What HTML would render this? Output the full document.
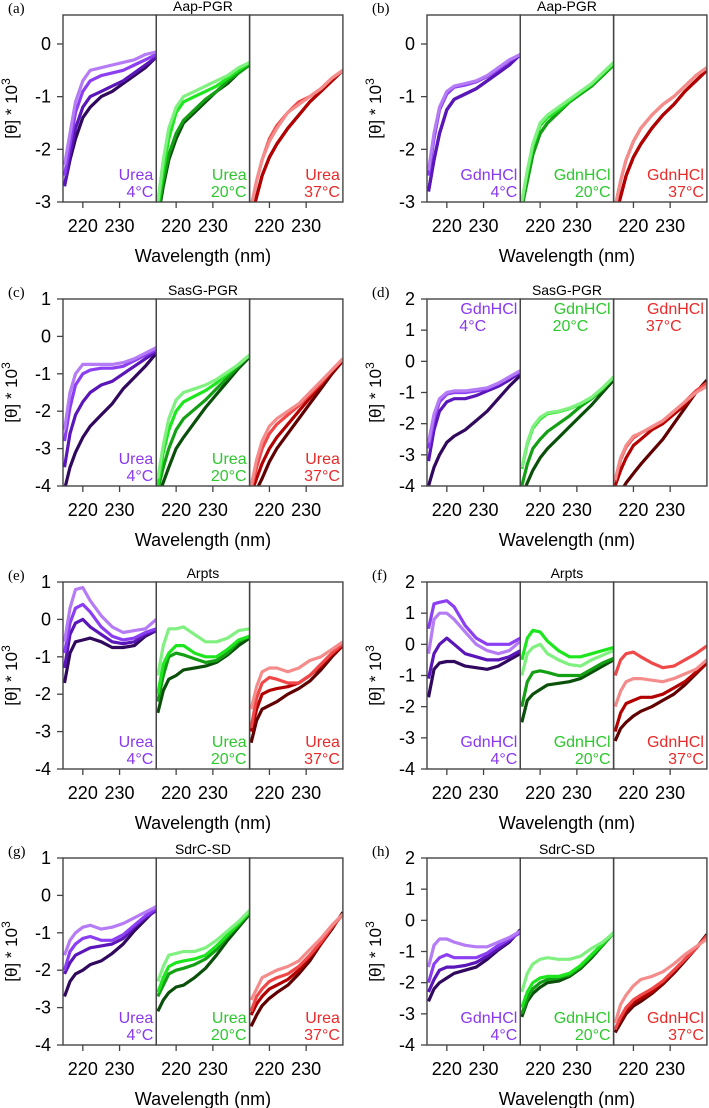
<!DOCTYPE html>
<html><head><meta charset="utf-8"><style>
html,body{margin:0;padding:0;background:#fff;}
svg{display:block;font-family:"Liberation Sans",sans-serif;}
</style></head><body>
<svg id="fig" width="709" height="1108" viewBox="0 0 709 1108" xmlns="http://www.w3.org/2000/svg"></svg>
<script>
// wavelengths (nm) shared by all curves
const wavelengths = [215,216.5,218,220,222,225,228,231,234,237,240];
const panelLetters = ["(a)","(b)","(c)","(d)","(e)","(f)","(g)","(h)"];
const panelTitles = ["Aap-PGR","Aap-PGR","SasG-PGR","SasG-PGR","Arpts","Arpts","SdrC-SD","SdrC-SD"];
const denaturants = ["Urea","GdnHCl","Urea","GdnHCl","Urea","GdnHCl","Urea","GdnHCl"];
const temps = ["4°C","20°C","37°C"];
const yMax = [0.55,0.55,1,2,1,2,1,2];
const yMin = [-3,-3,-4,-4,-4,-4,-4,-4];
const yTicksA = [0,-1,-2,-3];
const yTicks1 = [1,0,-1,-2,-3,-4];
const yTicks2 = [2,1,0,-1,-2,-3,-4];
const xTicks = [220,230];
// series values: panel -> temperature -> curves (light, bright, medium, dark)
const seriesA = [
 [[-2.3,-1.7,-1.1,-0.7,-0.5,-0.45,-0.4,-0.35,-0.3,-0.2,-0.15],[-2.5,-1.9,-1.3,-0.9,-0.7,-0.6,-0.55,-0.5,-0.4,-0.3,-0.2],[-2.7,-2.1,-1.6,-1.2,-1.0,-0.9,-0.8,-0.7,-0.55,-0.4,-0.25],[-2.7,-2.2,-1.8,-1.4,-1.2,-1.0,-0.9,-0.75,-0.6,-0.45,-0.25]],
 [[-3.0,-2.2,-1.6,-1.2,-1.0,-0.9,-0.8,-0.7,-0.6,-0.45,-0.35],[-3.1,-2.4,-1.8,-1.3,-1.1,-1.0,-0.9,-0.8,-0.65,-0.5,-0.35],[-3.2,-2.6,-2.1,-1.7,-1.45,-1.25,-1.05,-0.9,-0.7,-0.55,-0.4],[-3.3,-2.7,-2.2,-1.8,-1.5,-1.3,-1.1,-0.9,-0.75,-0.55,-0.4]],
 [[-3.1,-2.6,-2.2,-1.85,-1.6,-1.3,-1.15,-1.0,-0.85,-0.65,-0.5],[-3.1,-2.6,-2.2,-1.8,-1.55,-1.3,-1.1,-1.0,-0.85,-0.65,-0.5],[-3.3,-2.9,-2.5,-2.15,-1.9,-1.6,-1.35,-1.1,-0.9,-0.7,-0.5],[-3.3,-2.9,-2.5,-2.15,-1.9,-1.6,-1.35,-1.1,-0.9,-0.7,-0.5]]];
const seriesB = [
 [[-2.4,-1.7,-1.2,-0.9,-0.8,-0.75,-0.7,-0.6,-0.45,-0.3,-0.2],[-2.5,-1.8,-1.25,-0.95,-0.82,-0.78,-0.72,-0.62,-0.48,-0.32,-0.2],[-2.8,-2.2,-1.7,-1.25,-1.05,-0.95,-0.85,-0.7,-0.55,-0.4,-0.2],[-2.8,-2.2,-1.7,-1.25,-1.05,-0.95,-0.85,-0.7,-0.55,-0.4,-0.2]],
 [[-3.0,-2.4,-1.9,-1.5,-1.35,-1.2,-1.05,-0.9,-0.75,-0.55,-0.35],[-3.0,-2.45,-1.95,-1.55,-1.4,-1.25,-1.08,-0.92,-0.77,-0.57,-0.37],[-3.1,-2.6,-2.1,-1.7,-1.5,-1.3,-1.1,-0.95,-0.8,-0.6,-0.4],[-3.1,-2.6,-2.1,-1.7,-1.5,-1.3,-1.1,-0.95,-0.8,-0.6,-0.4]],
 [[-3.1,-2.6,-2.2,-1.85,-1.6,-1.35,-1.15,-1.0,-0.8,-0.6,-0.45],[-3.1,-2.6,-2.2,-1.85,-1.6,-1.35,-1.15,-1.0,-0.8,-0.6,-0.45],[-3.3,-2.9,-2.5,-2.15,-1.9,-1.6,-1.35,-1.15,-0.9,-0.7,-0.5],[-3.3,-2.9,-2.5,-2.15,-1.9,-1.6,-1.35,-1.15,-0.9,-0.7,-0.5]]];
const seriesC = [
 [[-2.5,-1.5,-1.0,-0.75,-0.75,-0.75,-0.75,-0.7,-0.6,-0.45,-0.3],[-2.8,-1.9,-1.3,-1.0,-0.9,-0.85,-0.85,-0.8,-0.65,-0.5,-0.35],[-3.5,-2.6,-2.1,-1.75,-1.5,-1.3,-1.2,-1.0,-0.8,-0.6,-0.4],[-4.1,-3.5,-3.1,-2.7,-2.4,-2.1,-1.8,-1.4,-1.1,-0.8,-0.45]],
 [[-3.8,-2.9,-2.2,-1.7,-1.5,-1.4,-1.3,-1.15,-0.95,-0.75,-0.5],[-4,-3.1,-2.5,-2.0,-1.75,-1.6,-1.45,-1.25,-1.0,-0.75,-0.5],[-4.1,-3.5,-3.0,-2.5,-2.2,-1.95,-1.7,-1.4,-1.1,-0.8,-0.5],[-4.3,-3.9,-3.5,-3.0,-2.7,-2.3,-1.9,-1.55,-1.2,-0.85,-0.55]],
 [[-4,-3.3,-2.8,-2.4,-2.2,-2.0,-1.8,-1.5,-1.2,-0.9,-0.6],[-4.1,-3.5,-3.0,-2.6,-2.35,-2.1,-1.85,-1.55,-1.25,-0.9,-0.6],[-4.2,-3.8,-3.4,-3.0,-2.7,-2.35,-2.0,-1.65,-1.3,-0.95,-0.65],[-4.4,-4.1,-3.8,-3.35,-3.0,-2.6,-2.2,-1.8,-1.4,-1.0,-0.65]]];
const seriesD = [
 [[-2.6,-1.7,-1.2,-1.0,-0.95,-0.95,-0.9,-0.85,-0.7,-0.5,-0.3],[-2.8,-1.85,-1.3,-1.05,-1.0,-1.0,-0.95,-0.88,-0.72,-0.52,-0.32],[-3.2,-2.2,-1.6,-1.3,-1.2,-1.2,-1.1,-0.95,-0.8,-0.6,-0.35],[-4.0,-3.4,-3.0,-2.6,-2.4,-2.2,-1.9,-1.6,-1.2,-0.8,-0.45]],
 [[-3.4,-2.6,-2.1,-1.8,-1.65,-1.6,-1.5,-1.35,-1.15,-0.85,-0.5],[-3.45,-2.65,-2.15,-1.85,-1.68,-1.62,-1.52,-1.37,-1.17,-0.87,-0.52],[-4,-3.3,-2.8,-2.5,-2.25,-2.0,-1.75,-1.45,-1.2,-0.9,-0.5],[-4.3,-3.9,-3.5,-3.1,-2.8,-2.45,-2.1,-1.75,-1.4,-1.0,-0.6]],
 [[-3.8,-3.1,-2.7,-2.4,-2.3,-2.1,-1.9,-1.6,-1.3,-1.0,-0.8],[-3.85,-3.15,-2.75,-2.45,-2.3,-2.12,-1.92,-1.62,-1.3,-0.95,-0.7],[-4.0,-3.5,-3.1,-2.7,-2.5,-2.2,-2.0,-1.7,-1.4,-1.0,-0.7],[-4.5,-4.2,-3.9,-3.6,-3.3,-2.9,-2.5,-2.0,-1.5,-1.0,-0.6]]];
const seriesE = [
 [[-0.6,0.3,0.8,0.85,0.5,0.1,-0.2,-0.35,-0.3,-0.25,0.0],[-0.9,-0.1,0.3,0.4,0.2,-0.2,-0.45,-0.55,-0.5,-0.35,-0.25],[-1.3,-0.4,-0.1,0.0,-0.2,-0.4,-0.6,-0.65,-0.6,-0.4,-0.3],[-1.7,-0.9,-0.6,-0.55,-0.5,-0.6,-0.75,-0.75,-0.7,-0.45,-0.3]],
 [[-1.5,-0.7,-0.25,-0.25,-0.2,-0.4,-0.6,-0.6,-0.5,-0.3,-0.25],[-2.0,-1.2,-0.9,-0.7,-0.7,-0.9,-1.0,-1.0,-0.8,-0.55,-0.45],[-2.2,-1.5,-1.0,-0.9,-0.95,-1.05,-1.15,-1.1,-0.9,-0.6,-0.45],[-2.5,-1.9,-1.6,-1.5,-1.35,-1.3,-1.25,-1.15,-0.95,-0.7,-0.5]],
 [[-2.4,-1.8,-1.4,-1.3,-1.3,-1.4,-1.3,-1.1,-1.0,-0.8,-0.6],[-2.9,-2.1,-1.7,-1.55,-1.6,-1.7,-1.7,-1.5,-1.2,-0.9,-0.65],[-3.0,-2.4,-2.0,-1.9,-1.85,-1.8,-1.7,-1.5,-1.25,-0.95,-0.7],[-3.3,-2.7,-2.4,-2.3,-2.2,-2.0,-1.85,-1.65,-1.35,-1.0,-0.7]]];
const seriesF = [
 [[-0.3,0.8,1.0,1.0,0.8,0.4,0.0,-0.2,-0.3,-0.2,0.1],[0.5,1.3,1.35,1.4,1.2,0.6,0.2,0.0,0.0,0.0,0.2],[-1.1,-0.3,0.0,0.2,0.0,-0.3,-0.4,-0.5,-0.5,-0.4,-0.2],[-1.7,-0.8,-0.6,-0.55,-0.55,-0.7,-0.75,-0.8,-0.7,-0.5,-0.3]],
 [[-1.0,-0.3,-0.1,0.0,-0.3,-0.5,-0.65,-0.7,-0.5,-0.35,-0.2],[-0.5,0.2,0.45,0.4,0.1,-0.2,-0.4,-0.4,-0.3,-0.2,-0.1],[-2.0,-1.2,-0.9,-0.85,-0.9,-1.0,-1.0,-1.0,-0.8,-0.6,-0.45],[-2.5,-1.8,-1.6,-1.45,-1.3,-1.25,-1.2,-1.1,-0.9,-0.7,-0.5]],
 [[-2.0,-1.5,-1.2,-1.1,-1.1,-1.15,-1.2,-1.1,-0.95,-0.8,-0.5],[-1.0,-0.5,-0.3,-0.25,-0.4,-0.6,-0.75,-0.7,-0.5,-0.3,-0.05],[-2.8,-2.2,-1.9,-1.8,-1.7,-1.7,-1.6,-1.4,-1.2,-0.9,-0.6],[-3.1,-2.7,-2.5,-2.3,-2.15,-2.0,-1.8,-1.6,-1.3,-0.95,-0.6]]];
const seriesG = [
 [[-1.6,-1.2,-1.0,-0.85,-0.8,-0.9,-0.85,-0.75,-0.6,-0.45,-0.3],[-2.0,-1.5,-1.3,-1.15,-1.1,-1.2,-1.2,-1.05,-0.8,-0.55,-0.35],[-2.1,-1.8,-1.6,-1.5,-1.4,-1.35,-1.3,-1.15,-0.85,-0.6,-0.4],[-2.7,-2.3,-2.1,-2.0,-1.85,-1.75,-1.55,-1.3,-0.95,-0.65,-0.35]],
 [[-2.3,-1.9,-1.6,-1.55,-1.5,-1.5,-1.4,-1.2,-0.95,-0.7,-0.4],[-2.6,-2.2,-1.9,-1.8,-1.75,-1.7,-1.6,-1.35,-1.05,-0.75,-0.45],[-2.7,-2.4,-2.1,-2.0,-1.95,-1.85,-1.7,-1.45,-1.1,-0.8,-0.45],[-3.1,-2.8,-2.6,-2.45,-2.4,-2.2,-1.95,-1.6,-1.2,-0.85,-0.5]],
 [[-2.8,-2.5,-2.2,-2.1,-2.0,-1.9,-1.75,-1.45,-1.15,-0.8,-0.5],[-3.1,-2.7,-2.5,-2.3,-2.2,-2.1,-1.9,-1.6,-1.25,-0.85,-0.5],[-3.2,-2.9,-2.7,-2.5,-2.4,-2.25,-2.0,-1.65,-1.3,-0.85,-0.5],[-3.5,-3.2,-2.95,-2.75,-2.6,-2.4,-2.1,-1.75,-1.3,-0.9,-0.45]]];
const seriesH = [
 [[-1.5,-0.8,-0.6,-0.6,-0.7,-0.8,-0.85,-0.85,-0.7,-0.55,-0.35],[-2.0,-1.4,-1.2,-1.1,-1.2,-1.2,-1.2,-1.05,-0.8,-0.6,-0.4],[-2.3,-1.9,-1.6,-1.5,-1.5,-1.45,-1.35,-1.15,-0.9,-0.65,-0.35],[-2.6,-2.2,-2.0,-1.85,-1.7,-1.6,-1.5,-1.25,-0.95,-0.7,-0.3]],
 [[-2.3,-1.7,-1.4,-1.25,-1.2,-1.25,-1.25,-1.15,-0.9,-0.7,-0.4],[-2.8,-2.3,-2.0,-1.85,-1.8,-1.8,-1.7,-1.45,-1.1,-0.75,-0.4],[-3.0,-2.5,-2.2,-2.0,-1.9,-1.85,-1.75,-1.5,-1.15,-0.8,-0.4],[-3.1,-2.6,-2.35,-2.15,-2.0,-1.95,-1.8,-1.55,-1.2,-0.8,-0.4]],
 [[-3.3,-2.7,-2.4,-2.1,-1.9,-1.8,-1.65,-1.4,-1.1,-0.85,-0.6],[-3.5,-3.1,-2.8,-2.55,-2.4,-2.2,-1.95,-1.6,-1.25,-0.9,-0.5],[-3.5,-3.2,-2.9,-2.65,-2.5,-2.3,-2.0,-1.65,-1.25,-0.9,-0.5],[-3.6,-3.3,-3.0,-2.75,-2.6,-2.35,-2.05,-1.7,-1.3,-0.9,-0.45]]];
const allSeries = [seriesA,seriesB,seriesC,seriesD,seriesE,seriesF,seriesG,seriesH];

const palette = [["#b57cf5","#8c3ff2","#5a16b8","#30085e"],["#80f080","#1ee61e","#14a014","#0a500a"],["#f58c8c","#f04848","#b30000","#600000"]];
const labelColors = ["#8a38f0","#2dc82d","#e82a2a"];
const NS = "http://www.w3.org/2000/svg";
const svg = document.getElementById("fig");
function mk(tag, attrs, parent){const e=document.createElementNS(NS,tag);for(const k in attrs)e.setAttribute(k,attrs[k]);(parent||svg).appendChild(e);return e;}
const colX = [63,427];
const rowTop = [15,299,582,858];
const PH = 187, SW = 93.3;
const WMIN = 214.6, WMAX = 240;

for(let p=0;p<8;p++){
  const col=p%2,row=Math.floor(p/2);
  const x0=colX[col],top=rowTop[row],bot=top+PH;
  const g=mk("g",{});
  
  
  const yS=v=>top+(yMax[p]-v)/(yMax[p]-yMin[p])*PH;
  const lt=mk("text",{x:x0-55,y:top-2,"font-family":"Liberation Serif,serif","font-size":15},g);lt.textContent=panelLetters[p];
  
  const tt=mk("text",{x:x0+SW*1.5,y:top-4,"text-anchor":"middle","font-size":14},g);tt.textContent=panelTitles[p];
  
  const ticks = p<2?yTicksA:(yMax[p]===2?yTicks2:yTicks1);
  ticks.forEach(t=>{const y=yS(t);
    mk("line",{x1:x0-6,x2:x0,y1:y,y2:y,stroke:"#444","stroke-width":1.3},g);
    const tx=mk("text",{x:x0-12,y:y+6,"text-anchor":"end","font-size":18},g);tx.textContent=t;
    });
  const yt=mk("text",{transform:`translate(${x0-46},${top+PH/2}) rotate(-90)`,"text-anchor":"middle","font-size":17},g);
  yt.innerHTML='[θ] * 10<tspan dy="-7" font-size="12">3</tspan>';
  
  const xl=mk("text",{x:x0+SW*1.5,y:bot+60,"text-anchor":"middle","font-size":18},g);xl.textContent="Wavelength (nm)";
  
  for(let s=0;s<3;s++){
    const sx=x0+s*SW;
    const xS=w=>sx+(w-WMIN)/(WMAX-WMIN)*SW;
    const cid="c"+p+"_"+s;
    const cp=mk("clipPath",{id:cid},g);mk("rect",{x:sx,y:top,width:SW,height:PH},cp);
    const sg=mk("g",{"clip-path":`url(#${cid})`},g);
    
    
    const curves=allSeries[p][s];
    for(let c=curves.length-1;c>=0;c--){
      const d=curves[c].map((v,i)=>(i?"L":"M")+xS(wavelengths[i]).toFixed(1)+","+yS(v).toFixed(1)).join("");
      const pl=mk("path",{d:d,fill:"none",stroke:palette[s][c],"stroke-width":3.2,"stroke-linejoin":"round"},sg);
      
      
    }
    mk("rect",{x:sx,y:top,width:SW,height:PH,fill:"none",stroke:"#444","stroke-width":1.4},g);
    xTicks.forEach(t=>{const x=xS(t);
      mk("line",{x1:x,x2:x,y1:bot,y2:bot+6,stroke:"#444","stroke-width":1.3},g);
      const tx=mk("text",{x:x,y:bot+30,"text-anchor":"middle","font-size":18},g);tx.textContent=t;
      });
    const topLbl = (p===3);
    const ly1 = topLbl? top+15 : bot-22, ly2 = topLbl? top+32 : bot-5;
    const l1=mk("text",{x:sx+SW-3,y:ly1,"text-anchor":"end","font-size":16,fill:labelColors[s]},g);l1.textContent=denaturants[p];
    
    const l2=mk("text",{x:topLbl?sx+SW-3-58:sx+SW-3,y:ly2,"text-anchor":topLbl?"start":"end","font-size":16,fill:labelColors[s]},g);l2.textContent=temps[s];
    
  }
}
</script>
</body></html>
